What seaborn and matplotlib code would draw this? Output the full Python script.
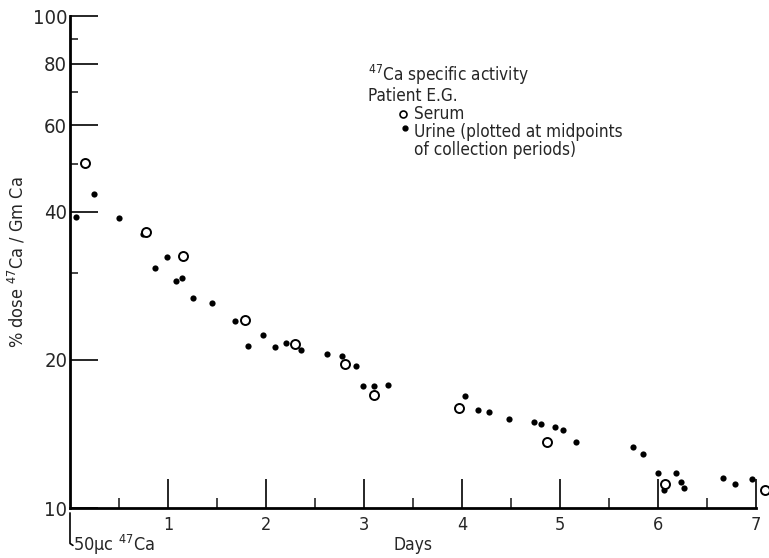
import matplotlib
matplotlib.use("Agg")
import matplotlib.pyplot as plt
import seaborn as sns
import pandas as pd
from matplotlib.ticker import FixedLocator, NullFormatter
import matplotlib.transforms as mtransforms

# ---- data ----
serum_days = [0.15, 0.78, 1.15, 1.79, 2.30, 2.81, 3.10, 3.97, 4.87, 6.07, 7.09]
serum_vals = [50.2, 36.4, 32.5, 24.1, 21.5, 19.6, 17.0, 16.0, 13.6, 11.2, 10.9]

urine_days = [0.06, 0.24, 0.50, 0.74, 0.87, 0.99, 1.08, 1.14, 1.25, 1.45,
              1.68, 1.82, 1.97, 2.09, 2.20, 2.36, 2.62, 2.78, 2.92, 2.99,
              3.10, 3.24, 4.03, 4.16, 4.28, 4.48, 4.73, 4.81, 4.95, 5.03,
              5.16, 5.74, 5.85, 6.00, 6.06, 6.18, 6.23, 6.27, 6.66, 6.79, 6.96]
urine_vals = [39.1, 43.5, 38.8, 36.1, 30.8, 32.3, 29.0, 29.4, 26.7, 26.1,
              24.0, 21.3, 22.5, 21.2, 21.6, 20.9, 20.6, 20.4, 19.4, 17.7,
              17.7, 17.8, 16.9, 15.8, 15.7, 15.2, 14.95, 14.8, 14.6, 14.4,
              13.6, 13.3, 12.9, 11.8, 10.9, 11.8, 11.3, 11.0, 11.5, 11.2, 11.45]

y_major = [10, 20, 40, 60, 80, 100]
y_minor = [30, 50, 70, 90]
x_major = [1, 2, 3, 4, 5, 6, 7]
x_minor = [0.5, 1.5, 2.5, 3.5, 4.5, 5.5, 6.5]

serum = pd.DataFrame({"day": serum_days, "val": serum_vals})
urine = pd.DataFrame({"day": urine_days, "val": urine_vals})

sns.set_style("ticks")
plt.rcParams["font.family"] = ["DejaVu Sans"]
plt.rcParams["font.stretch"] = "condensed"
plt.rcParams["mathtext.fontset"] = "custom"
plt.rcParams["mathtext.rm"] = "DejaVu Sans:stretch=condensed"
plt.rcParams["mathtext.it"] = "DejaVu Sans:stretch=condensed"

fig = plt.figure(figsize=(7.69, 5.58), dpi=100)
ax = fig.add_axes([70 / 769, 50 / 558, 686 / 769, 492 / 558])

sns.scatterplot(data=urine, x="day", y="val", ax=ax, color="black", s=20,
                linewidth=0, marker="o", clip_on=False, zorder=3)
sns.scatterplot(data=serum, x="day", y="val", ax=ax, facecolor="white",
                edgecolor="black", s=42, linewidth=1.4, marker="o",
                clip_on=False, zorder=4)

ax.set_yscale("log")
ax.set_xlim(0, 7)
ax.set_ylim(10, 100)

for side in ["top", "right"]:
    ax.spines[side].set_visible(False)
for side in ["left", "bottom"]:
    ax.spines[side].set_linewidth(2.0)
    ax.spines[side].set_color("black")

ax.yaxis.set_major_locator(FixedLocator(y_major))
ax.yaxis.set_minor_locator(FixedLocator(y_minor))
ax.set_yticklabels([str(v) for v in y_major])
ax.yaxis.set_minor_formatter(NullFormatter())
ax.xaxis.set_major_locator(FixedLocator(x_major))
ax.xaxis.set_minor_locator(FixedLocator(x_minor))
ax.set_xticklabels([str(v) for v in x_major])

ax.tick_params(axis="y", which="major", direction="in", length=20, width=1.4,
               labelsize=14.5, pad=2)
ax.tick_params(axis="y", which="minor", direction="in", length=6, width=1.2)
ax.tick_params(axis="x", which="major", direction="in", length=21, width=1.4,
               labelsize=13, pad=6)
ax.tick_params(axis="x", which="minor", direction="in", length=7, width=1.2)

ax.set_xlabel("Days", fontsize=12.5, labelpad=1)
ax.set_ylabel(r"% dose $^{47}$Ca / Gm Ca", fontsize=13, labelpad=4)

# injection marker below the axis at day 0
trans = mtransforms.blended_transform_factory(ax.transData, ax.transAxes)
ax.plot([0, 0, 0.03], [-0.01, -0.072, -0.076], transform=trans, color="black",
        lw=1.2, clip_on=False)
ax.annotate(r"50μc $^{47}$Ca", xy=(0, -0.087), xycoords=trans,
            xytext=(2, 0), textcoords="offset points", fontsize=13,
            ha="left", va="baseline")

# key text
kx = 368 / 769
ax_fig = fig.transFigure
fs = 12.3
fig.text(kx, 1 - 101 / 558, "$^{47}$Ca specific activity\nPatient E.G.",
         fontsize=fs, ha="left", va="baseline", linespacing=1.0)
fig.text(414 / 769, 1 - 114 / 558, "Serum", fontsize=fs, ha="left", va="center")
fig.text(414 / 769, 1 - 132 / 558, "Urine (plotted at midpoints", fontsize=fs,
         ha="left", va="center")
fig.text(414 / 769, 1 - 150 / 558, "of collection periods)", fontsize=fs,
         ha="left", va="center")
fig.lines.append(plt.Line2D([403 / 769], [1 - 114 / 558], transform=ax_fig,
                            marker="o", ms=5, mfc="white", mec="black", mew=1.2,
                            ls="none"))
fig.lines.append(plt.Line2D([405 / 769], [1 - 128 / 558], transform=ax_fig,
                            marker="o", ms=3.5, mfc="black", mec="black",
                            ls="none"))

fig.savefig("out.png", dpi=100)
